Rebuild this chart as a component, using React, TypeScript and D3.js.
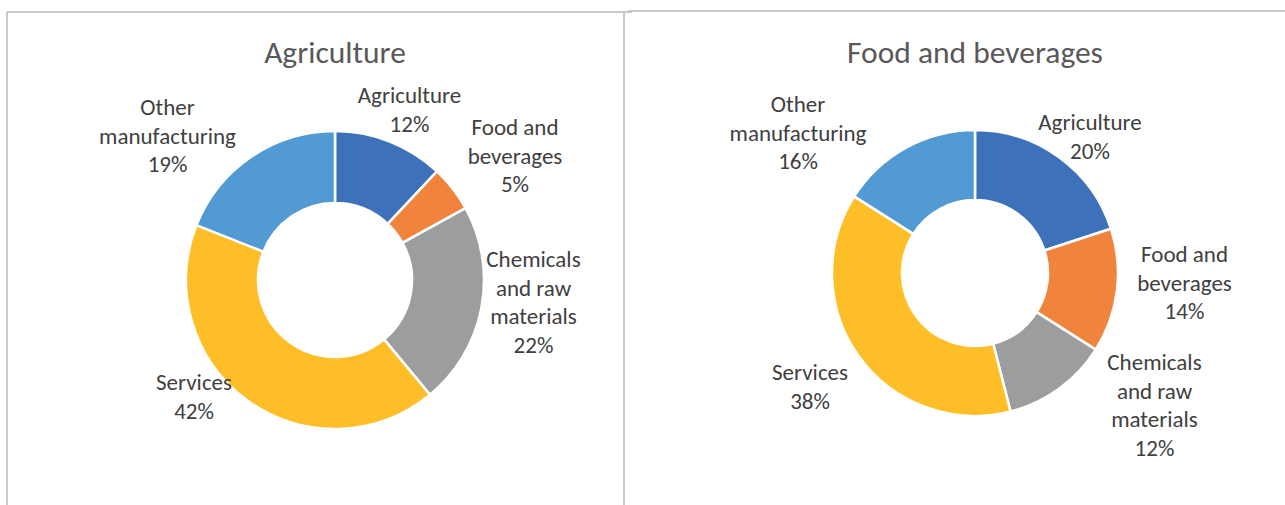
import * as d3 from "d3"

// slices, in drawing order (clockwise from 12 o'clock)
const categories = [
  "Agriculture",
  "Food and beverages",
  "Chemicals and raw materials",
  "Services",
  "Other manufacturing",
]
const labelLines = [
  ["Agriculture"],
  ["Food and", "beverages"],
  ["Chemicals", "and raw", "materials"],
  ["Services"],
  ["Other", "manufacturing"],
]
const agricultureShares = [12, 5, 22, 42, 19]
const foodShares = [20, 14, 12, 38, 16]
const chartTitles = ["Agriculture", "Food and beverages"]

const colors = ["#3d71b9", "#f0843c", "#9b9d9e", "#fdbe28", "#519ad3"]

const W = 1285
const H = 505
const FONT = "Carlito, Lato, 'Open Sans', sans-serif"
const LINE = 28.7

// label anchors: x offset of text centre, y offset of first baseline, from donut centre
const leftLabelOffsets = [
  [74.5, -177],
  [180, -145],
  [198.5, -13],
  [-141, 110],
  [-167.5, -165],
]
const rightLabelOffsets = [
  [115, -143],
  [209.5, -11],
  [179.5, 97],
  [-165, 107],
  [-177, -161],
]

interface DonutProps {
  title: string
  values: number[]
  cx: number
  cy: number
  outer: number
  inner: number
  offsets: number[][]
}

function Donut({ title, values, cx, cy, outer, inner, offsets }: DonutProps) {
  const pie = d3.pie<number>().sort(null).value((d) => d)
  const arcs = pie(values)
  const arc = d3.arc<d3.PieArcDatum<number>>().innerRadius(inner).outerRadius(outer)

  return (
    <g>
      <text
        x={cx}
        y={63}
        textAnchor="middle"
        fontFamily={FONT}
        fontSize={31.5}
        fill="#595959"
      >
        {title}
      </text>
      <g transform={`translate(${cx},${cy})`}>
        {arcs.map((a, i) => (
          <path
            key={categories[i]}
            d={arc(a) || ""}
            fill={colors[i]}
            stroke="#fff"
            strokeWidth={2.5}
            strokeLinejoin="round"
          />
        ))}
        {arcs.map((a, i) => {
          const [dx, dy] = offsets[i]
          const lines = [...labelLines[i], `${a.data}%`]
          return (
            <text
              key={"l" + i}
              textAnchor="middle"
              fontFamily={FONT}
              fontSize={23}
              fill="#404040"
            >
              {lines.map((t, j) => (
                <tspan key={j} x={dx} y={dy + j * LINE}>
                  {t}
                </tspan>
              ))}
            </text>
          )
        })}
      </g>
    </g>
  )
}

export default function App() {
  return (
    <svg
      width={W}
      height={H}
      style={{ position: "absolute", left: 0, top: 0, background: "#fff" }}
    >
      <rect x={0} y={0} width={W} height={H} fill="#fff" />
      {/* panel frames */}
      <g stroke="#b8b8b8" strokeWidth={1.5} fill="none">
        <line x1={7} y1={12} x2={632} y2={12} />
        <line x1={7} y1={12} x2={7} y2={H} />
        <line x1={624} y1={12} x2={624} y2={H} />
        <line x1={628} y1={11} x2={W} y2={11} />
      </g>
      <Donut
        title={chartTitles[0]}
        values={agricultureShares}
        cx={335}
        cy={280}
        outer={149}
        inner={77}
        offsets={leftLabelOffsets}
      />
      <Donut
        title={chartTitles[1]}
        values={foodShares}
        cx={975}
        cy={273}
        outer={143}
        inner={73}
        offsets={rightLabelOffsets}
      />
    </svg>
  )
}
